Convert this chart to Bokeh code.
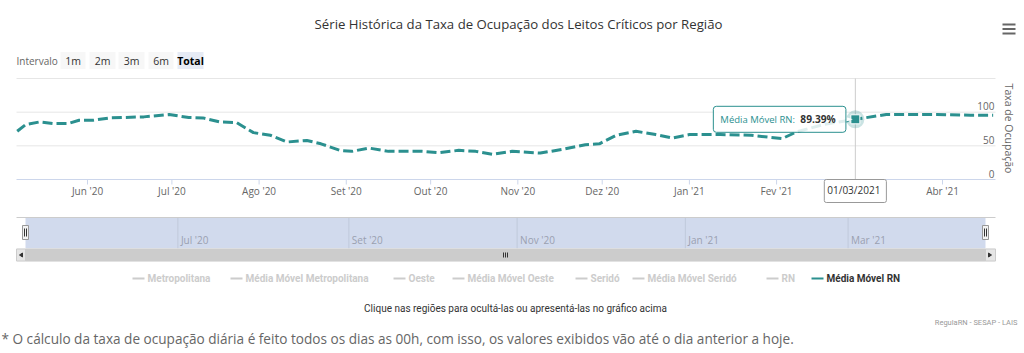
import math
import datetime as dt
from bokeh.plotting import figure
from bokeh.models import Range1d, Label
from bokeh.core.properties import value
from bokeh.embed import file_html
from bokeh.resources import INLINE

# ---------------- data ----------------
rn_dates = ["2020-05-07", "2020-05-10", "2020-05-15", "2020-05-20", "2020-05-25", "2020-05-29",
            "2020-06-03", "2020-06-09", "2020-06-21", "2020-06-30", "2020-07-07", "2020-07-12",
            "2020-07-18", "2020-07-24", "2020-07-30", "2020-08-05", "2020-08-11", "2020-08-18",
            "2020-08-23", "2020-08-30", "2020-09-03", "2020-09-09", "2020-09-16", "2020-09-28",
            "2020-10-04", "2020-10-11", "2020-10-17", "2020-10-23", "2020-10-30", "2020-11-09",
            "2020-11-17", "2020-11-25", "2020-11-30", "2020-12-06", "2020-12-13", "2020-12-20",
            "2020-12-26", "2021-01-01", "2021-01-12", "2021-01-23", "2021-02-03", "2021-02-08",
            "2021-02-18", "2021-03-01", "2021-03-12", "2021-03-30", "2021-04-11", "2021-04-19"]
rn_values = [71.6, 81.6, 85.5, 83.0, 83.0, 88.0, 88.0, 91.5, 93.0, 96.5, 92.0, 91.5,
             85.5, 84.5, 69.6, 65.7, 55.7, 58.0, 53.0, 43.0, 41.8, 46.7, 41.8, 41.8,
             39.8, 43.3, 41.8, 37.3, 41.8, 39.3, 44.8, 51.7, 53.0, 65.7, 71.6, 66.7,
             61.7, 66.7, 66.7, 65.7, 60.7, 70.6, 82.0, 89.39, 96.5, 96.5, 95.5, 95.5]

month_ticks = ["2020-06-01", "2020-07-01", "2020-08-01", "2020-09-01", "2020-10-01", "2020-11-01",
               "2020-12-01", "2021-01-01", "2021-02-01", "2021-03-01", "2021-04-01"]
month_labels = ["Jun '20", "Jul '20", "Ago '20", "Set '20", "Out '20", "Nov '20",
                "Dez '20", "Jan '21", "Fev '21", "Mar '21", "Abr '21"]
nav_ticks = ["2020-07-01", "2020-09-01", "2020-11-01", "2021-01-01", "2021-03-01"]
nav_labels = ["Jul '20", "Set '20", "Nov '20", "Jan '21", "Mar '21"]
y_grid = [50, 100, 150]
y_label_vals = [0, 50, 100]
y_labels = ["0", "50", "100"]
y_title = "Taxa de Ocupação"

legend_names = ["Metropolitana", "Média Móvel Metropolitana", "Oeste", "Média Móvel Oeste",
                "Seridó", "Média Móvel Seridó", "RN", "Média Móvel RN"]
legend_active = [False, False, False, False, False, False, False, True]

hover_date = "2021-03-01"
hover_value = 89.39
hover_series = "Média Móvel RN"
range_buttons = ["1m", "2m", "3m", "6m", "Total"]

title = "Série Histórica da Taxa de Ocupação dos Leitos Críticos por Região"
hint = "Clique nas regiões para ocultá-las ou apresentá-las no gráfico acima"
credit = "RegulaRN - SESAP - LAIS"
footnote = ("* O cálculo da taxa de ocupação diária é feito todos os dias as 00h, com isso, "
            "os valores exibidos vão até o dia anterior a hoje.")

# ---------------- helpers ----------------
def d(s):
    return dt.datetime.strptime(s, "%Y-%m-%d")

def ms(x):
    return (x - dt.datetime(1970, 1, 1)).total_seconds() * 1000.0

TEAL = "#2b908f"
FONT = "Open Sans"
SMALL = "Roboto"
W, H = 1024, 353

# main plot area (canvas pixels): x 16..995, y 78 (150) .. 179 (0)
PL, PR, PT, PB = 16, 995, 78, 179
YMAX = 150.0
x_start = dt.datetime(2020, 5, 6, 18)
x_end = dt.datetime(2021, 4, 19, 20)
span_ms = ms(x_end) - ms(x_start)
# navigator area x 25..985
NL, NR = 25, 985

xs = [d(s) for s in rn_dates]
hx = d(hover_date)
mt = [d(s) for s in month_ticks]
nt = [d(s) for s in nav_ticks]

p = figure(width=W, height=H, x_range=Range1d(0, W), y_range=Range1d(H, 0),
           output_backend="svg", toolbar_location=None, min_border=0)
p.axis.visible = False
p.grid.visible = False
p.outline_line_color = None
p.background_fill_color = "white"

upp = YMAX / (PB - PT)  # value units per pixel
p.extra_x_ranges = {
    "date": Range1d(ms(x_start) - PL / (PR - PL) * span_ms, ms(x_end) + (W - PR) / (PR - PL) * span_ms),
    "nav": Range1d(ms(x_start) - NL / (NR - NL) * span_ms, ms(x_end) + (W - NR) / (NR - NL) * span_ms),
}
p.extra_y_ranges = {"val": Range1d(-(H - PB) * upp, PB * upp)}

# ---------------- header ----------------
p.text(x=[518], y=[23], text=[title], text_align="center", text_baseline="middle",
       text_font=value(FONT), text_font_size="13.2px", text_color="#333333")
p.text(x=[16], y=[60], text=["Intervalo"], text_align="left", text_baseline="middle",
       text_font=value(FONT), text_font_size="10px", text_color="#666666")
bx = [72.5, 102, 131, 160.5, 190]
bw = [25, 26, 26, 25, 26]
bcol = ["#f7f7f7"] * 4 + ["#e6ebf5"]
p.rect(x=bx, y=[60] * 5, width=bw, height=[17] * 5, fill_color=bcol, line_color=None)
p.text(x=bx[:4], y=[60] * 4, text=range_buttons[:4], text_align="center", text_baseline="middle",
       text_font=value(FONT), text_font_size="10.5px", text_color="#333333")
p.text(x=bx[4:], y=[60], text=range_buttons[4:], text_align="center", text_baseline="middle",
       text_font=value(FONT), text_font_size="10.5px", text_font_style="bold", text_color="#000000")
p.segment(x0=[1002] * 3, x1=[1015] * 3, y0=[24, 28.5, 33], y1=[24, 28.5, 33],
          line_color="#666666", line_width=2)

# ---------------- main chart ----------------
p.segment(x0=[x_start] * len(y_grid), x1=[x_end] * len(y_grid), y0=y_grid, y1=y_grid,
          line_color="#e6e6e6", line_width=1, x_range_name="date", y_range_name="val")
p.segment(x0=[x_start], x1=[x_end], y0=[0], y1=[0], line_color="#ccd6eb", line_width=1,
          x_range_name="date", y_range_name="val")
p.segment(x0=mt, x1=mt, y0=[PB] * len(mt), y1=[PB + 5] * len(mt), line_color="#ccd6eb",
          line_width=1, x_range_name="date")
p.text(x=mt, y=[190] * len(mt), text=month_labels, text_align="center", text_baseline="middle",
       text_font=value(FONT), text_font_size="10px", text_color="#666666", x_range_name="date")
p.text(x=[x_end] * 3, y=y_label_vals, text=y_labels, text_align="right", text_baseline="bottom",
       x_offset=-1, y_offset=-2, text_font=value(FONT), text_font_size="10px",
       text_color="#666666", x_range_name="date", y_range_name="val")
p.text(x=[1008], y=[128], text=[y_title], angle=-math.pi / 2, text_align="center",
       text_baseline="middle", text_font=value(FONT), text_font_size="10.5px", text_color="#666666")

# crosshair
p.segment(x0=[hx], x1=[hx], y0=[0], y1=[YMAX], line_color="#cccccc", line_width=1,
          x_range_name="date", y_range_name="val")
# series
p.line(x=xs, y=rn_values, line_color=TEAL, line_width=3, line_dash="10 4",
       x_range_name="date", y_range_name="val")
# hovered point
p.scatter(x=[hx], y=[hover_value], marker="circle", size=18, fill_color=TEAL,
          fill_alpha=0.25, line_color=None, x_range_name="date", y_range_name="val")
p.scatter(x=[hx], y=[hover_value], marker="square", size=9, fill_color=TEAL,
          line_color="white", line_width=1, x_range_name="date", y_range_name="val")

# tooltip
p.add_layout(Label(x=ms(hx), y=hover_value, x_offset=-142, text=hover_series + ":",
                   x_range_name="date", y_range_name="val",
                   text_align="left", text_baseline="middle", text_font=FONT,
                   text_font_size="9.5px", text_color=TEAL,
                   background_fill_color="white", background_fill_alpha=0.85,
                   border_line_color=TEAL, border_line_width=1, border_radius=3,
                   padding=(7, 51, 7, 6)))
p.add_layout(Label(x=ms(hx), y=hover_value, x_offset=-55, text=f"{hover_value:.2f}%",
                   x_range_name="date", y_range_name="val",
                   text_align="left", text_baseline="middle", text_font=FONT,
                   text_font_size="10.2px", text_font_style="bold", text_color="#333333"))
p.patches(xs=[[ms(hx) - 0.9 * 86400000, ms(hx) - 3.4 * 86400000, ms(hx) - 3.4 * 86400000]],
          ys=[[hover_value, hover_value + 3.5, hover_value - 3.5]],
          fill_color="white", line_color=None, x_range_name="date", y_range_name="val")
p.add_layout(Label(x=ms(hx), y=190.5, text=hx.strftime("%d/%m/%Y"), x_range_name="date",
                   text_align="center", text_baseline="middle", text_font=FONT,
                   text_font_size="10px", text_color="#333333",
                   background_fill_color="white", background_fill_alpha=1.0,
                   border_line_color="#999999", border_line_width=1, border_radius=2,
                   padding=(3, 6, 3, 6)))

# ---------------- navigator ----------------
NT, NB = 217, 248
p.quad(left=[NL], right=[NR], top=[NT], bottom=[NB], fill_color="#d1daed", line_color=None)
p.segment(x0=nt, x1=nt, y0=[NT] * len(nt), y1=[NB] * len(nt), line_color="#c0c9db",
          line_width=1, x_range_name="nav")
p.text(x=nt, y=[246] * len(nt), text=nav_labels, x_offset=3, text_align="left",
       text_baseline="bottom", text_font=value(FONT), text_font_size="10px",
       text_color="#9aa0b0", x_range_name="nav")
p.segment(x0=[PL], x1=[PR], y0=[NT], y1=[NT], line_color="#cccccc", line_width=1)
# scrollbar
p.quad(left=[PL], right=[PR], top=[NB], bottom=[261], fill_color="#f2f2f2", line_color=None)
p.quad(left=[NL], right=[NR], top=[NB + 0.5], bottom=[260.5], fill_color="#cccccc", line_color="#cccccc")
p.quad(left=[PL, NR], right=[NL, PR], top=[NB + 0.5] * 2, bottom=[260.5] * 2,
       fill_color="#e6e6e6", line_color="#cccccc")
p.patches(xs=[[22, 19, 22], [988, 991, 988]], ys=[[252.5, 254.5, 256.5], [252.5, 254.5, 256.5]],
          fill_color="#333333", line_color="#333333")
p.segment(x0=[503, 505, 507], x1=[503, 505, 507], y0=[252] * 3, y1=[257] * 3,
          line_color="#333333", line_width=1)
# handles
p.quad(left=[NL - 3, NR - 3], right=[NL + 3, NR + 3], top=[225, 225], bottom=[239, 239],
       fill_color="#f2f2f2", line_color="#999999")
p.segment(x0=[NL - 1, NL + 1, NR - 1, NR + 1], x1=[NL - 1, NL + 1, NR - 1, NR + 1],
          y0=[228] * 4, y1=[236] * 4, line_color="#333333", line_width=1)

# ---------------- legend / footer ----------------
leg_x = [132, 230, 393, 452, 575, 632, 766, 811]
sym_col = [TEAL if a else "#cccccc" for a in legend_active]
txt_col = ["#333333" if a else "#cccccc" for a in legend_active]
p.segment(x0=leg_x, x1=[v + 12 for v in leg_x], y0=[278] * 8, y1=[278] * 8,
          line_color=sym_col, line_width=2)
p.text(x=[v + 15 for v in leg_x], y=[278] * 8, text=legend_names, text_align="left",
       text_baseline="middle", text_font=value(SMALL), text_font_size="10px",
       text_font_style="bold", text_color=txt_col)
p.text(x=[515], y=[308], text=[hint], text_align="center", text_baseline="middle",
       text_font=value(SMALL), text_font_size="10px", text_color="#333333")
p.text(x=[1017], y=[322], text=[credit], text_align="right", text_baseline="middle",
       text_font=value(SMALL), text_font_size="7.5px", text_color="#999999")
p.text(x=[1], y=[338], text=[footnote], text_align="left", text_baseline="middle",
       text_font=value(FONT), text_font_size="13.6px", text_color="#666666")

open("out.html", "w").write(file_html(p, INLINE))
